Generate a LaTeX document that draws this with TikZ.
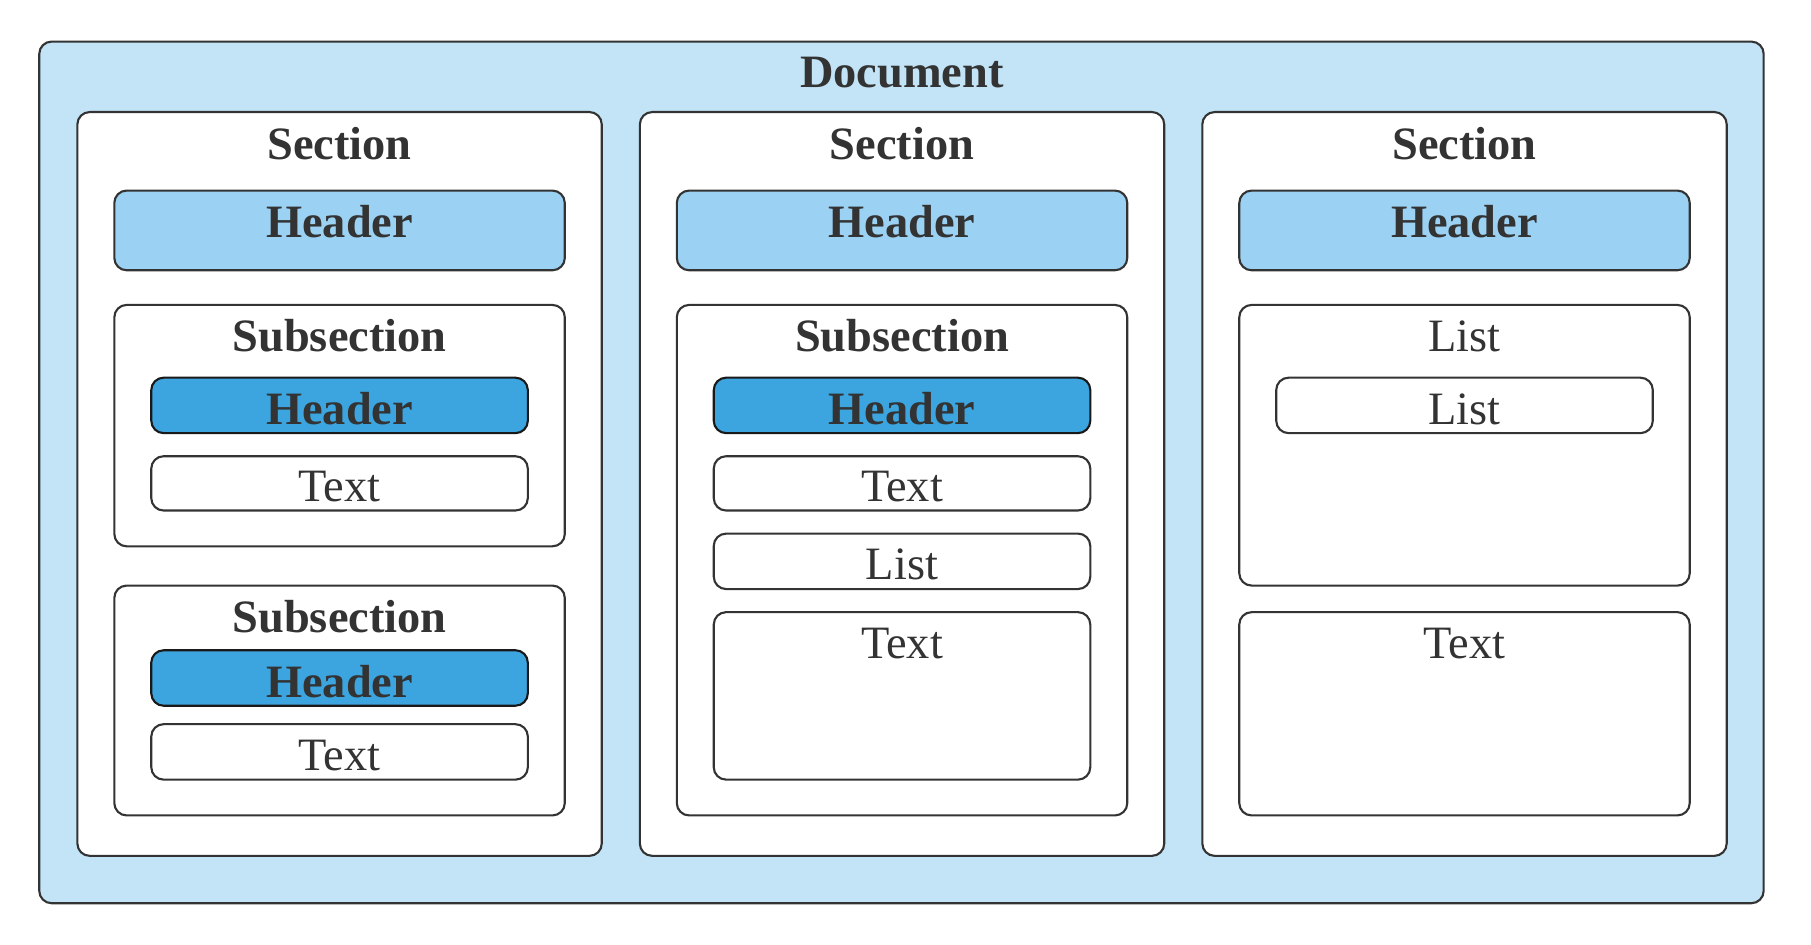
\documentclass[tikz,border=0pt]{standalone}
\usepackage{fontspec}
\setmainfont{Liberation Serif}
\usetikzlibrary{positioning}
\definecolor{docblue}{HTML}{C2E4F6}
\definecolor{hdrblue}{HTML}{9BD1F2}
\definecolor{subblue}{HTML}{3CA5DF}
\definecolor{ink}{HTML}{333333}
\newcommand\pxu{0.01155cm}
\tikzset{every node/.style={text=ink},
	box/.style={draw=ink,line width=0.6pt,rounded corners=3.5pt,inner sep=0pt},
	wh/.style 2 args={minimum width=#1*\pxu,minimum height=#2*\pxu},
	docbox/.style={box,fill=docblue},
	secbox/.style={box,fill=white},
	hdrbox/.style={box,fill=hdrblue},
	subhdr/.style={box,draw=black!90,fill=subblue},
	plain/.style={box,fill=white},
	bold/.style={font=\fontsize{13.2}{15}\selectfont\bfseries},
	reg/.style={font=\fontsize{13.2}{15}\selectfont}}

\begin{document}
\begin{tikzpicture}[x=\pxu,y=-\pxu]
\useasboundingbox (0,0) rectangle (1568,818);
\node [docbox,wh={1493}{746}] (doc) at (780.5,409) {};
\node [bold] (doct) at (781,63) {Document};
\foreach \n/\x in {1/294,2/781,3/1268} {
  \node [secbox,wh={454}{644}] (sec\n) at (\x,419) {};
  \node [bold] (sec\n t) at (\x,124) {Section};
  \node [hdrbox,wh={390}{69}] (hd\n) at (\x,199.5) {};
  \node [bold] (hd\n t) at (\x,192) {Header};
}
% section 1
\node [secbox,wh={390}{209}] (sa) at (294,368.5) {};
\node [bold] (sat) at (294,291) {Subsection};
\node [subhdr,wh={326}{48}] (sah) at (294,351) {};
\node [bold] (saht) at (294,354) {Header};
\node [plain,wh={326}{47}] (sax) at (294,418.5) {};
\node [reg] (saxt) at (294,421) {Text};
\node [secbox,wh={390}{199}] (sb) at (294,606.5) {};
\node [bold] (sbt) at (294,534) {Subsection};
\node [subhdr,wh={326}{48}] (sbh) at (294,587) {};
\node [bold] (sbht) at (294,590) {Header};
\node [plain,wh={326}{48}] (sbx) at (294,651) {};
\node [reg] (sbxt) at (294,654) {Text};
% section 2
\node [secbox,wh={390}{442}] (sc) at (781,485) {};
\node [bold] (sct) at (781,291) {Subsection};
\node [subhdr,wh={326}{48}] (sch) at (781,351) {};
\node [bold] (scht) at (781,354) {Header};
\node [plain,wh={326}{47}] (scx) at (781,418.5) {};
\node [reg] (scxt) at (781,421) {Text};
\node [plain,wh={326}{48}] (scl) at (781,486) {};
\node [reg] (sclt) at (781,489) {List};
\node [plain,wh={326}{145}] (scy) at (781,602.5) {};
\node [reg] (scyt) at (781,557) {Text};
% section 3
\node [plain,wh={390}{243}] (ls) at (1268,385.5) {};
\node [reg] (lst) at (1268,291) {List};
\node [plain,wh={326}{48}] (lsi) at (1268,351) {};
\node [reg] (lsit) at (1268,354) {List};
\node [plain,wh={390}{176}] (tx) at (1268,618) {};
\node [reg] (txt) at (1268,557) {Text};
\end{tikzpicture}
\end{document}
